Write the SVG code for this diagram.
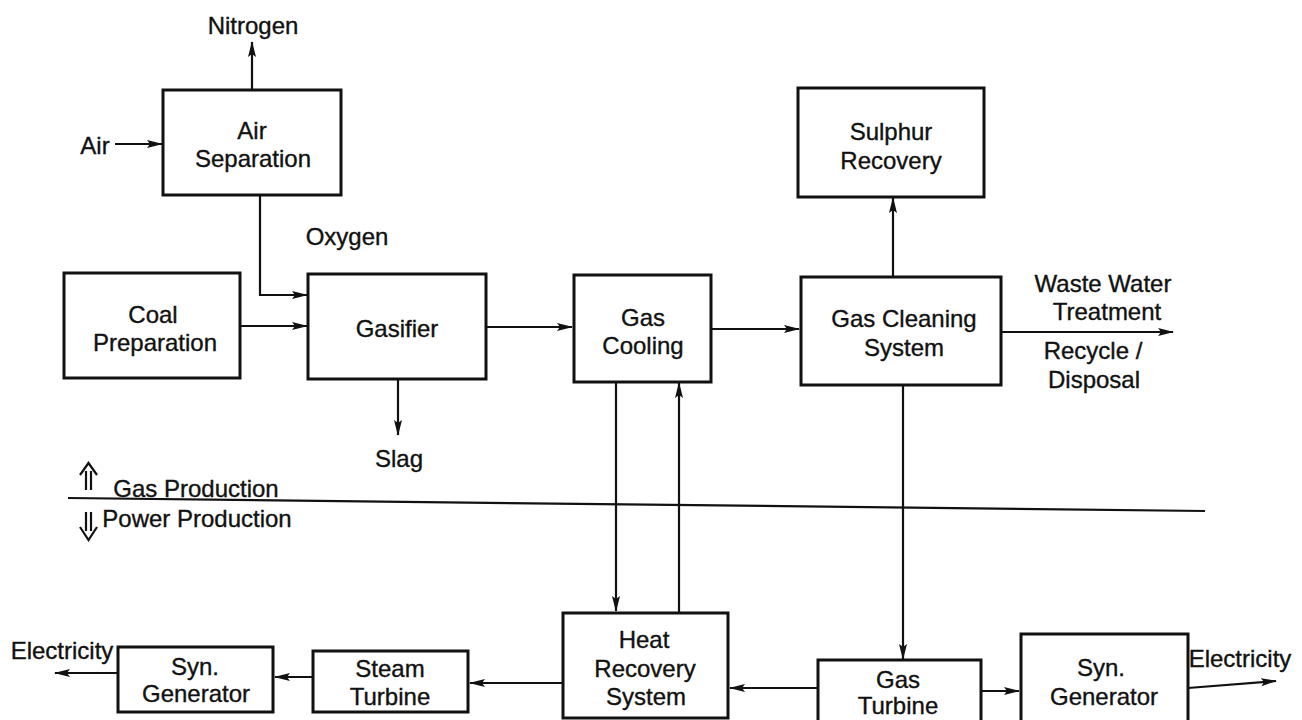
<svg xmlns="http://www.w3.org/2000/svg" width="1302" height="720" viewBox="0 0 1302 720">
<style>
text{font-family:"Liberation Sans",Arial,sans-serif;font-size:24px;fill:#111;stroke:#111;stroke-width:0.35;text-anchor:middle}
.box{fill:#fff;stroke:#111;stroke-width:3}
.ln{fill:none;stroke:#111;stroke-width:2.2}
.arr{marker-end:url(#ah)}
</style>
<defs>
<marker id="ah" markerUnits="userSpaceOnUse" markerWidth="16" markerHeight="10" refX="15" refY="5" orient="auto">
<path d="M0,1 L16,5 L0,9 L3,5 z" fill="#111"/>
</marker>
</defs>
<rect width="1302" height="720" fill="#fff"/>

<g id="connectors">
<line class="ln arr" x1="252" y1="90" x2="252" y2="42"/>
<line class="ln arr" x1="115" y1="144" x2="162" y2="144"/>
<polyline class="ln arr" points="260,195 260,295 307,295"/>
<line class="ln arr" x1="240" y1="326" x2="307" y2="326"/>
<line class="ln arr" x1="398" y1="379" x2="398" y2="435"/>
<line class="ln arr" x1="486" y1="327" x2="572" y2="327"/>
<line class="ln arr" x1="711" y1="329" x2="799" y2="329"/>
<line class="ln arr" x1="893" y1="277" x2="893" y2="198"/>
<line class="ln arr" x1="1001" y1="332" x2="1173" y2="332"/>
<line class="ln arr" x1="903" y1="385" x2="903" y2="659"/>
<line class="ln arr" x1="616" y1="382" x2="616" y2="611"/>
<line class="ln arr" x1="679" y1="612" x2="679" y2="383"/>
<line class="ln" x1="68" y1="498" x2="1205" y2="511"/>
<line class="ln arr" x1="818" y1="688" x2="730" y2="688"/>
<line class="ln arr" x1="981" y1="691" x2="1019" y2="691"/>
<line class="ln arr" x1="1188" y1="688" x2="1276" y2="681"/>
<line class="ln arr" x1="563" y1="683" x2="470" y2="683"/>
<line class="ln arr" x1="313" y1="677" x2="275" y2="677"/>
<line class="ln arr" x1="118" y1="673" x2="55" y2="673"/>
<path class="ln" d="M86,471 V490 M91,471 V490 M80,475 L88.5,463 L97,475"/>
<path class="ln" d="M86,512 V531 M91,512 V531 M80,527 L88.5,540 L97,527"/>
</g>

<g id="air-separation"><rect class="box" x="163" y="90" width="178" height="105"/><text x="252" y="139">Air</text><text x="253" y="167">Separation</text></g>
<g id="coal-preparation"><rect class="box" x="64" y="273" width="176" height="105"/><text x="153" y="323">Coal</text><text x="155" y="351">Preparation</text></g>
<g id="gasifier"><rect class="box" x="308" y="274" width="178" height="105"/><text x="397" y="337">Gasifier</text></g>
<g id="gas-cooling"><rect class="box" x="574" y="275" width="137" height="107"/><text x="643" y="326">Gas</text><text x="643" y="354">Cooling</text></g>
<g id="gas-cleaning"><rect class="box" x="801" y="277" width="200" height="108"/><text x="904" y="327">Gas Cleaning</text><text x="904" y="356">System</text></g>
<g id="sulphur-recovery"><rect class="box" x="798" y="88" width="186" height="109"/><text x="891" y="140">Sulphur</text><text x="891" y="169">Recovery</text></g>
<g id="heat-recovery"><rect class="box" x="563" y="613" width="165" height="105"/><text x="644" y="648">Heat</text><text x="645" y="677">Recovery</text><text x="646" y="705">System</text></g>
<g id="gas-turbine"><rect class="box" x="818" y="660" width="163" height="64"/><text x="898" y="688">Gas</text><text x="898" y="714" font-size="23">Turbine</text></g>
<g id="syn-generator-right"><rect class="box" x="1021" y="634" width="167" height="90"/><text x="1101" y="676">Syn.</text><text x="1104" y="705">Generator</text></g>
<g id="steam-turbine"><rect class="box" x="313" y="651" width="155" height="61"/><text x="390" y="677" font-size="22">Steam</text><text x="390" y="705" font-size="22">Turbine</text></g>
<g id="syn-generator-left"><rect class="box" x="118" y="647" width="155" height="65"/><text x="195" y="675" font-size="22">Syn.</text><text x="196" y="702" font-size="22">Generator</text></g>

<g id="labels">
<text x="253" y="34">Nitrogen</text>
<text x="95" y="154">Air</text>
<text x="347" y="245">Oxygen</text>
<text x="399" y="467">Slag</text>
<text x="1103" y="292">Waste Water</text>
<text x="1107" y="320">Treatment</text>
<text x="1093" y="359">Recycle /</text>
<text x="1094" y="388">Disposal</text>
<text x="196" y="497">Gas Production</text>
<text x="197" y="527">Power Production</text>
<text x="62" y="659" font-size="19">Electricity</text>
<text x="1240" y="667" font-size="19">Electricity</text>
</g>
</svg>
